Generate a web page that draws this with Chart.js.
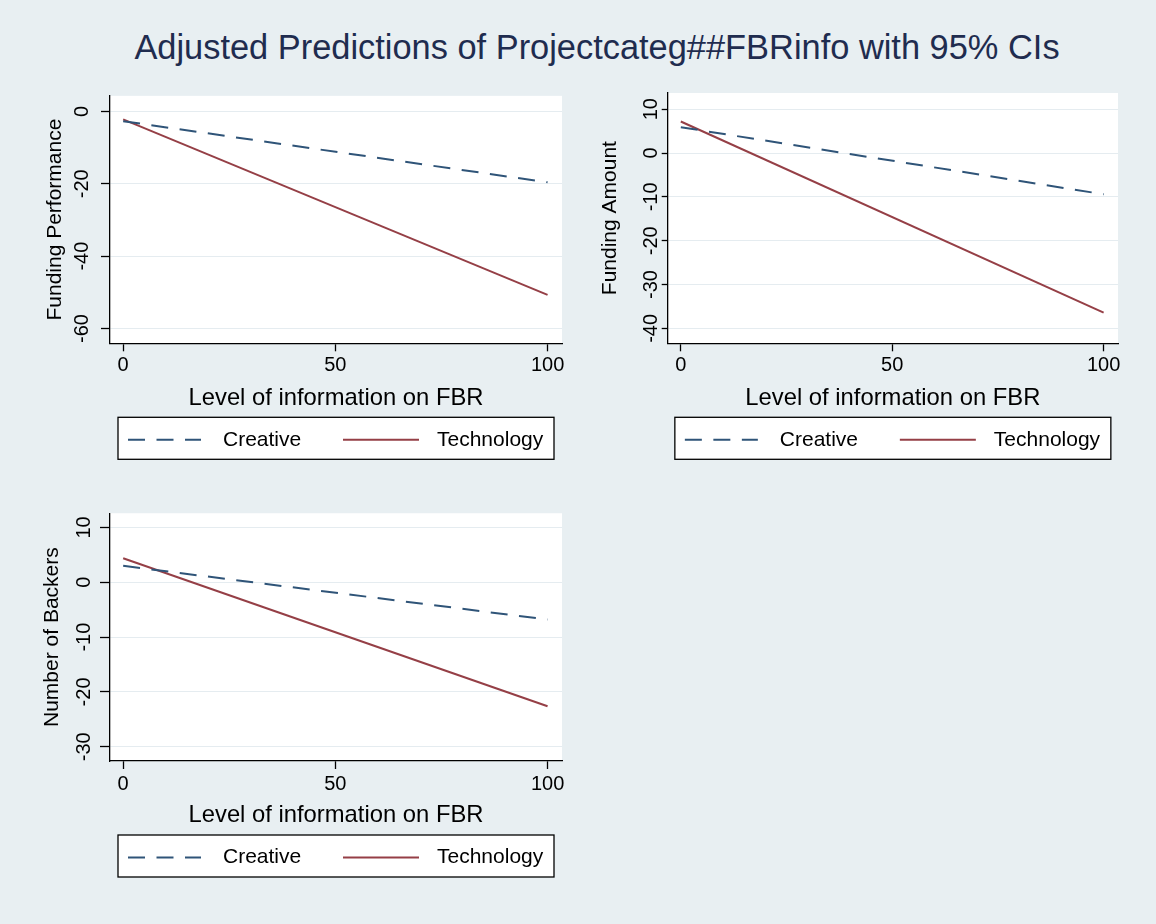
<!DOCTYPE html>
<html>
<head>
<meta charset="utf-8">
<script src="https://cdn.jsdelivr.net/npm/chart.js@4.4.1/dist/chart.umd.min.js"></script>
<style>
  html, body { margin: 0; padding: 0; }
  body { width: 1156px; height: 924px; overflow: hidden; background: #e8eff2; position: relative;
         font-family: "Liberation Sans", Arial, Helvetica, sans-serif; }
  .title { position: absolute; left: 97px; top: 30px; width: 1000px; text-align: center;
           font-size: 34.4px; line-height: 34px; color: #1f2c4f; }
  .panel { position: absolute; }
</style>
</head>
<body>
<div class="title">Adjusted Predictions of Projectcateg##FBRinfo with 95% CIs</div>
<script>
// ─── Data ──────────────────────────────────────────────────────────────────────
const seriesNames = ["Creative", "Technology"];
const fbrLevels = [0, 100];
const xTicks = [0, 50, 100];

const perfCreative = [-2.7, -19.6];
const perfTechnology = [-2.2, -50.7];
const perfTicks = [0, -20, -40, -60];

const amountCreative = [5.9, -9.4];
const amountTechnology = [7.2, -36.4];
const amountTicks = [10, 0, -10, -20, -30, -40];

const backersCreative = [3.0, -6.8];
const backersTechnology = [4.4, -22.6];
const backersTicks = [10, 0, -10, -20, -30];

const xTitle = "Level of information on FBR";

// ─── Styles ────────────────────────────────────────────────────────────────────
const FAMILY = '"Liberation Sans", Arial, Helvetica, sans-serif';
const NAVY = "#2f5478";
const MAROON = "#953f46";
const GRID = "#e5ecf0";
const TICK_SIZE = 20;
const X_TITLE_SIZE = 23.8;
const X_AXIS_H = 70;

const measureCtx = document.createElement("canvas").getContext("2d");
function textWidth(s, size) {
  measureCtx.font = size + "px " + FAMILY;
  return measureCtx.measureText(s).width;
}

// white plot region
const plotBg = {
  id: "plotBg",
  beforeDraw(chart) {
    const { ctx, chartArea: a } = chart;
    ctx.save();
    ctx.fillStyle = "#fff";
    ctx.fillRect(a.left, a.top, a.right - a.left, a.bottom - a.top);
    ctx.restore();
  }
};

// boxed legend under the axis title, like Stata
const legendBox = {
  id: "legendBox",
  afterDraw(chart) {
    const { ctx, chartArea: a } = chart;
    const w = 436, h = 42;
    const x0 = (a.left + a.right) / 2 - w / 2;
    const y0 = a.bottom + 74;
    ctx.save();
    ctx.fillStyle = "#fff";
    ctx.fillRect(x0, y0, w, h);
    ctx.strokeStyle = "#000";
    ctx.lineWidth = 1.3;
    ctx.strokeRect(x0, y0, w, h);
    const yMid = y0 + h / 2 + 1.5;
    const lineStart = [10, 225], lineEnd = [83, 301], textStart = [105, 319];
    chart.data.datasets.forEach((ds, i) => {
      ctx.beginPath();
      ctx.setLineDash(ds.borderDash || []);
      ctx.strokeStyle = ds.borderColor;
      ctx.lineWidth = ds.borderWidth;
      ctx.moveTo(x0 + lineStart[i], yMid);
      ctx.lineTo(x0 + lineEnd[i], yMid);
      ctx.stroke();
      ctx.setLineDash([]);
      ctx.fillStyle = "#000";
      ctx.font = "21px " + FAMILY;
      ctx.textBaseline = "middle";
      ctx.textAlign = "left";
      ctx.fillText(ds.label, x0 + textStart[i], yMid);
    });
    ctx.restore();
  }
};

function makePanel(p) {
  const box = document.createElement("div");
  box.className = "panel";
  box.style.left = p.left + "px";
  box.style.top = p.top + "px";
  box.style.width = p.w + "px";
  box.style.height = p.h + "px";
  const cv = document.createElement("canvas");
  box.appendChild(cv);
  document.body.appendChild(box);

  const plotL = p.plotL - p.left, plotT = p.plotT - p.top;
  const plotR = p.plotR - p.left, plotB = p.plotB - p.top;
  const widest = Math.max(...p.yTicks.map(v => textWidth(String(v), TICK_SIZE)));

  new Chart(cv, {
    type: "line",
    data: {
      datasets: [
        {
          label: seriesNames[0],
          data: fbrLevels.map((x, i) => ({ x, y: p.creative[i] })),
          borderColor: NAVY, borderWidth: 2, borderDash: [17, 11.5],
          pointRadius: 0, tension: 0, fill: false
        },
        {
          label: seriesNames[1],
          data: fbrLevels.map((x, i) => ({ x, y: p.technology[i] })),
          borderColor: MAROON, borderWidth: 2,
          pointRadius: 0, tension: 0, fill: false
        }
      ]
    },
    options: {
      responsive: true,
      maintainAspectRatio: false,
      animation: false,
      events: [],
      layout: { padding: { left: 0, top: plotT, right: p.w - plotR, bottom: p.h - plotB - X_AXIS_H } },
      plugins: { legend: { display: false }, tooltip: { enabled: false } },
      scales: {
        x: {
          type: "linear", min: -3.1, max: 103.4,
          afterBuildTicks: s => { s.ticks = xTicks.map(v => ({ value: v })); },
          afterFit: s => { s.height = X_AXIS_H; },
          grid: { drawOnChartArea: false, tickLength: 8, tickColor: "#000", tickWidth: 1.3 },
          border: { color: "#000", width: 1.3 },
          ticks: { font: { family: FAMILY, size: TICK_SIZE }, color: "#000", padding: p.xLabelPad,
                   maxRotation: 0, autoSkip: false, callback: v => String(v) },
          title: { display: true, text: xTitle, color: "#000", font: { family: FAMILY, size: X_TITLE_SIZE },
                   padding: { top: 0, bottom: X_AXIS_H - p.xTitleGap - X_TITLE_SIZE * 0.6 } }
        },
        y: {
          type: "linear", min: p.yMin, max: p.yMax,
          afterBuildTicks: s => { s.ticks = p.yTicks.map(v => ({ value: v })); },
          afterFit: s => { s.width = plotL; },
          grid: { color: GRID, lineWidth: 1, tickLength: p.tickLen, tickColor: "#000", tickWidth: 1.3 },
          border: { color: "#000", width: 1.3 },
          ticks: { font: { family: FAMILY, size: TICK_SIZE }, color: "#000", minRotation: 90, maxRotation: 90,
                   crossAlign: "center", autoSkip: false, callback: v => String(v),
                   padding: plotL - (p.yLabelX - p.left) - p.tickLen - widest / 2 },
          title: { display: true, text: p.yTitle, color: "#000", font: { family: FAMILY, size: 21 },
                   padding: { top: (p.yTitleX - p.left) - 12.6, bottom: 0 } }
        }
      }
    },
    plugins: [plotBg, legendBox]
  });
}

makePanel({
  left: 0, top: 80, w: 580, h: 390,
  plotL: 110, plotT: 93, plotR: 562, plotB: 343.3,
  yMin: -64.1, yMax: 4.3, yTicks: perfTicks,
  creative: perfCreative, technology: perfTechnology,
  yTitle: "Funding Performance", yTitleX: 55, yLabelX: 82.7, tickLen: 9,
  xLabelPad: 2, xTitleGap: 55
});

makePanel({
  left: 580, top: 80, w: 576, h: 390,
  plotL: 667.7, plotT: 93, plotR: 1118, plotB: 343.3,
  yMin: -43.4, yMax: 13.7, yTicks: amountTicks,
  creative: amountCreative, technology: amountTechnology,
  yTitle: "Funding Amount", yTitleX: 610, yLabelX: 651.7, tickLen: 6,
  xLabelPad: 2, xTitleGap: 55
});

makePanel({
  left: 0, top: 500, w: 580, h: 390,
  plotL: 110, plotT: 512.7, plotR: 562, plotB: 761,
  yMin: -32.6, yMax: 12.6, yTicks: backersTicks,
  creative: backersCreative, technology: backersTechnology,
  yTitle: "Number of Backers", yTitleX: 51.8, yLabelX: 84.3, tickLen: 10,
  xLabelPad: 3.5, xTitleGap: 54
});
</script>
</body>
</html>
